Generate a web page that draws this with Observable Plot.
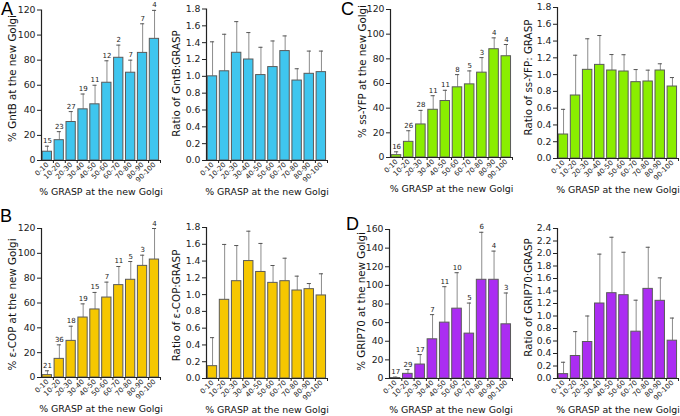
<!DOCTYPE html>
<html><head><meta charset="utf-8">
<script src="https://cdn.jsdelivr.net/npm/d3@7"></script>
<script src="https://cdn.jsdelivr.net/npm/@observablehq/plot@0.6"></script>
<style>
body{margin:0;background:#fff;}
#fig{position:relative;width:680px;height:416px;overflow:hidden;font-family:"DejaVu Sans",sans-serif;}
.panel{position:absolute;}
.panel svg{overflow:visible;}
.letter{position:absolute;font-family:"Liberation Sans",Arial,sans-serif;font-size:18px;line-height:1;color:#000;}
</style></head><body><div id="fig"></div>
<script>
const categories = ["0-10","10-20","20-30","30-40","40-50","50-60","60-70","70-80","80-90","90-100"];
const xTitle = "% GRASP at the new Golgi";

// A: GntB
const gntbMean = [7, 16.2, 30.7, 40.8, 44.8, 62, 81.9, 70, 85.8, 97];
const gntbSd   = [4.4, 6.8, 8.3, 12.2, 15.2, 17.5, 10.1, 10, 23.2, 22.7];
const gntbN    = [15, 23, 27, 19, 11, 12, 2, 7, 7, 4];
const gntbRatio   = [1.0, 1.06, 1.28, 1.2, 1.015, 1.11, 1.3, 0.95, 1.03, 1.05];
const gntbRatioSd = [0.41, 0.44, 0.37, 0.32, 0.33, 0.31, 0.18, 0.14, 0.27, 0.25];

// B: epsilon-COP
const copMean = [1.9, 15, 29.5, 48.3, 54.8, 64.4, 74.4, 78.7, 89.9, 95];
const copSd   = [3.5, 11.3, 11.8, 11, 13.7, 12.4, 15, 14.7, 8.6, 25];
const copN    = [21, 36, 18, 19, 15, 7, 11, 5, 3, 4];
const copRatio   = [0.147, 0.938, 1.16, 1.4, 1.27, 1.14, 1.16, 1.049, 1.065, 0.99];
const copRatioSd = [0.34, 0.66, 0.425, 0.356, 0.34, 0.207, 0.274, 0.171, 0.067, 0.258];

// C: ss-YFP
const yfpMean = [1.9, 12.7, 26.8, 38.7, 45.8, 56.9, 59.3, 68.8, 87.8, 82.1];
const yfpSd   = [2.7, 9.0, 11.4, 11.4, 8.7, 10.3, 10.9, 12.2, 9.2, 9.5];
const yfpN    = [16, 26, 28, 11, 11, 8, 5, 3, 4, 4];
const yfpRatio   = [0.286, 0.751, 1.057, 1.116, 1.049, 1.037, 0.91, 0.918, 1.049, 0.858];
const yfpRatioSd = [0.30, 0.48, 0.37, 0.35, 0.19, 0.20, 0.15, 0.135, 0.08, 0.107];

// D: GRIP70
const gripMean = [0.5, 5, 15, 42.1, 60, 75, 48.2, 106, 106, 58.2];
const gripSd   = [1, 4.6, 10.7, 26.5, 38.6, 38.6, 32.8, 51, 30.8, 33.6];
const gripN    = [17, 29, 17, 7, 11, 10, 5, 6, 4, 3];
const gripRatio   = [0.07, 0.36, 0.584, 1.2, 1.365, 1.333, 0.749, 1.434, 1.243, 0.605];
const gripRatioSd = [0.19, 0.39, 0.416, 0.79, 0.895, 0.687, 0.504, 0.666, 0.367, 0.362];

const fig = document.getElementById("fig");

function panel(o) {
  const data = categories.map((c, i) => ({c, i, m: o.mean[i], s: o.sd[i], n: o.n ? o.n[i] : null}));
  const ticks = d3.range(0, o.ymax + o.ystep / 2, o.ystep);
  const frameMid = o.top + o.mT + (o.h - o.mT - o.mB) / 2;
  const marks = [
    Plot.ruleX(data, {x: d => d.i + 0.5, y1: "m", y2: d => d.m + d.s, stroke: "#8c8c8c", strokeWidth: 1}),
    Plot.ruleY(data, {y: d => d.m + d.s, x1: d => d.i + 0.5 - 0.17, x2: d => d.i + 0.5 + 0.17, stroke: "#555", strokeWidth: 1}),
    Plot.rect(data, {x1: d => d.i + 0.1, x2: d => d.i + 0.88, y1: 0, y2: "m", fill: o.color, stroke: "#5a5a5a", strokeWidth: 1}),
    Plot.ruleX([0], {stroke: "#222", strokeWidth: 1.2}),
    Plot.ruleY([0], {stroke: "#222", strokeWidth: 1.2}),
    Plot.axisY({ticks, tickFormat: o.fmt, tickSize: 4, tickPadding: 2, label: null, fontSize: 9.3, stroke: "#222"}),
    Plot.axisX({ticks: d3.range(1, 11), tickFormat: () => "", tickSize: 3, label: null, stroke: "#222"}),
    Plot.axisX({ticks: d3.range(0, 10).map(i => i + 0.5), tickFormat: v => categories[Math.floor(v)], tickSize: 0, tickPadding: 3, tickRotate: -45, fontSize: 7, label: null}),
    Plot.text([o.ylabel], {text: d => d, frameAnchor: "left", textAnchor: "middle", lineAnchor: "middle", rotate: -90, dx: o.ylabelDx, dy: o.ylabelCenter - frameMid, fontSize: 10.3, fill: "#111"}),
    Plot.text([xTitle], {text: d => d, frameAnchor: "bottom", textAnchor: "middle", lineAnchor: "middle", dy: 31, fontSize: 9.4, fill: "#111"})
  ];
  if (o.n) marks.push(Plot.text(data, {x: d => d.i + 0.5, y: d => d.m + d.s, text: "n", dy: -3, lineAnchor: "bottom", fontSize: 7, fill: "#222"}));
  const svg = Plot.plot({
    width: o.w, height: o.h,
    marginLeft: o.mL, marginRight: o.mR, marginTop: o.mT, marginBottom: o.mB,
    style: {fontFamily: "DejaVu Sans, sans-serif", fontSize: "9.3px", color: "#222", background: "transparent", overflow: "visible"},
    x: {domain: [0, 10], axis: null},
    y: {domain: [0, o.ymax], axis: null},
    marks
  });
  const div = document.createElement("div");
  div.className = "panel";
  div.style.left = o.left + "px";
  div.style.top = o.top + "px";
  div.appendChild(svg);
  fig.appendChild(div);
}

const f0 = d3.format("d"), f1 = d3.format(".1f");

panel({left: 0, top: 0, w: 165, h: 205, mL: 41, mR: 5, mT: 9.5, mB: 45, ymax: 120, ystep: 20, fmt: f0,
  mean: gntbMean, sd: gntbSd, n: gntbN, color: "#3fc6ef", ylabel: "% GntB at the new Golgi", ylabelDx: -29, ylabelCenter: 78});
panel({left: 165, top: 0, w: 165, h: 205, mL: 41, mR: 3, mT: 8.5, mB: 45, ymax: 1.8, ystep: 0.2, fmt: f1,
  mean: gntbRatio, sd: gntbRatioSd, color: "#3fc6ef", ylabel: "Ratio of GntB:GRASP", ylabelDx: -30, ylabelCenter: 83});
panel({left: 340, top: 0, w: 175, h: 205, mL: 50, mR: 3, mT: 9, mB: 48, ymax: 120, ystep: 20, fmt: f0,
  mean: yfpMean, sd: yfpSd, n: yfpN, color: "#8aee00", ylabel: "% ss-YFP at the new Golgi", ylabelDx: -28, ylabelCenter: 71});
panel({left: 515, top: 0, w: 165, h: 205, mL: 42, mR: 2, mT: 7, mB: 47, ymax: 1.8, ystep: 0.2, fmt: f1,
  mean: yfpRatio, sd: yfpRatioSd, color: "#8aee00", ylabel: "Ratio of ss-YFP: GRASP", ylabelDx: -29, ylabelCenter: 77});

panel({left: 0, top: 205, w: 165, h: 211, mL: 41, mR: 5, mT: 23, mB: 39, ymax: 120, ystep: 20, fmt: f0,
  mean: copMean, sd: copSd, n: copN, color: "#f6c700", ylabel: "% \u03b5-COP at the new Golgi", ylabelDx: -29, ylabelCenter: 304});
panel({left: 165, top: 205, w: 165, h: 211, mL: 41, mR: 3, mT: 22, mB: 38, ymax: 1.8, ystep: 0.2, fmt: f1,
  mean: copRatio, sd: copRatioSd, color: "#f6c700", ylabel: "Ratio of \u03b5-COP:GRASP", ylabelDx: -30, ylabelCenter: 305});
panel({left: 340, top: 205, w: 175, h: 211, mL: 49, mR: 3, mT: 24, mB: 38, ymax: 160, ystep: 20, fmt: f0,
  mean: gripMean, sd: gripSd, n: gripN, color: "#ab2df2", ylabel: "% GRIP70 at the new Golgi", ylabelDx: -28, ylabelCenter: 301});
panel({left: 515, top: 205, w: 165, h: 211, mL: 42, mR: 2, mT: 23, mB: 38, ymax: 2.4, ystep: 0.2, fmt: f1,
  mean: gripRatio, sd: gripRatioSd, color: "#ab2df2", ylabel: "Ratio of GRIP70:GRASP", ylabelDx: -29, ylabelCenter: 297});

const letters = [["A", 1, 0], ["C", 341, 0], ["B", 0, 207], ["D", 346, 215]];
for (const [t, x, y] of letters) {
  const d = document.createElement("div");
  d.className = "letter";
  d.textContent = t;
  d.style.left = x + "px";
  d.style.top = y + "px";
  fig.appendChild(d);
}
</script></body></html>
